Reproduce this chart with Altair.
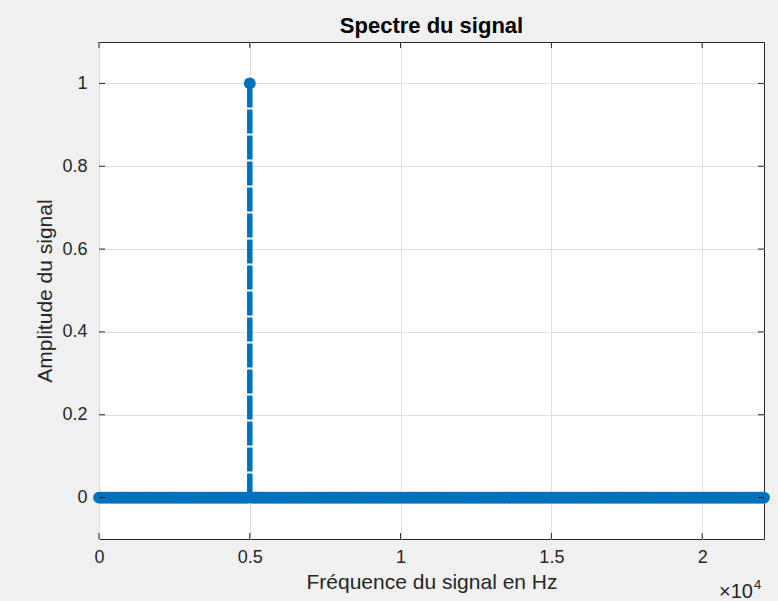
import altair as alt
import pandas as pd
import numpy as np

# Frequency grid (Hz) and spectrum amplitudes
freq_step = 50
freq_max = 22050
peak_freq = 5000
peak_amp = 1.0
x_ticks = [0, 5000, 10000, 15000, 20000]
y_ticks = [0, 0.2, 0.4, 0.6, 0.8, 1.0]

freqs = np.arange(0, freq_max + 1, freq_step)
amps = np.where(freqs == peak_freq, peak_amp, 0.0)
df = pd.DataFrame({"f": freqs, "a": amps})
stem_df = df[df["a"] != 0].copy()
stem_df["base"] = 0.0

W, H = 665, 497
BLUE = "#0072BD"
AX = "#262626"
FONT = "Liberation Sans"

xscale = alt.Scale(domain=[0, freq_max], nice=False, zero=False)
yscale = alt.Scale(domain=[-0.1, 1.1], nice=False, zero=False)

xaxis = alt.Axis(values=x_ticks, labelExpr="datum.value / 10000", grid=True,
                 title="Fréquence du signal en Hz", ticks=False, domain=False,
                 labelFlush=False, labelPadding=9, titlePadding=5)
yaxis = alt.Axis(values=y_ticks, format="~g", grid=True,
                 title="Amplitude du signal", ticks=False, domain=False,
                 labelFlush=False, labelPadding=12, titlePadding=6)

markers = alt.Chart(df).mark_circle(size=140, color=BLUE, opacity=1).encode(
    x=alt.X("f:Q", scale=xscale, axis=xaxis),
    y=alt.Y("a:Q", scale=yscale, axis=yaxis),
)

stems = alt.Chart(stem_df).mark_rule(color=BLUE, strokeWidth=5.5, strokeDash=[24, 2]).encode(
    x=alt.X("f:Q", scale=xscale),
    y=alt.Y("base:Q", scale=yscale),
    y2="a:Q",
)

xt = pd.DataFrame({"t": x_ticks})
yt = pd.DataFrame({"t": y_ticks})
TL = 6
xt_bot = alt.Chart(xt).mark_rule(color=AX, strokeWidth=1).encode(
    x=alt.X("t:Q", scale=xscale), y=alt.value(H), y2=alt.value(H - TL))
xt_top = alt.Chart(xt).mark_rule(color=AX, strokeWidth=1).encode(
    x=alt.X("t:Q", scale=xscale), y=alt.value(0), y2=alt.value(TL))
yt_left = alt.Chart(yt).mark_rule(color=AX, strokeWidth=1).encode(
    y=alt.Y("t:Q", scale=yscale), x=alt.value(0), x2=alt.value(TL))
yt_right = alt.Chart(yt).mark_rule(color=AX, strokeWidth=1).encode(
    y=alt.Y("t:Q", scale=yscale), x=alt.value(W), x2=alt.value(W - TL))

exp_df = pd.DataFrame({"s": ["×10"], "e": ["4"]})
exp_base = alt.Chart(exp_df).mark_text(font=FONT, fontSize=20, color=AX, align="right",
                                       baseline="alphabetic").encode(
    text="s:N", x=alt.value(W - 11), y=alt.value(H + 59))
exp_sup = alt.Chart(exp_df).mark_text(font=FONT, fontSize=13, color=AX, align="left",
                                      baseline="alphabetic").encode(
    text="e:N", x=alt.value(W - 10), y=alt.value(H + 50))

chart = alt.layer(
    stems, markers, xt_bot, xt_top, yt_left, yt_right, exp_base, exp_sup
).properties(
    width=W, height=H,
    title=alt.TitleParams("Spectre du signal", font=FONT, fontSize=22, fontWeight="bold",
                          color="#000000", anchor="middle", offset=4),
    autosize=alt.AutoSizeParams(type="none"),
    padding={"left": 99, "top": 42, "right": 14, "bottom": 62},
    background="#f0f0f0",
).configure_view(
    fill="white", stroke=AX, strokeWidth=1
).configure_axis(
    labelFont=FONT, labelFontSize=18, labelColor=AX,
    titleFont=FONT, titleFontSize=21, titleFontWeight="normal", titleColor=AX,
    gridColor="#dedede", gridWidth=1,
)

chart.save("out.html", embed_options={"renderer": "svg", "actions": False})
